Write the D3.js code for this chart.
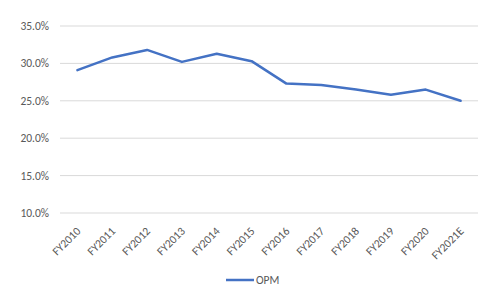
<!DOCTYPE html>
<html>
<head>
<meta charset="utf-8">
<script src="https://cdn.jsdelivr.net/npm/d3@7"></script>
<style>
  body { margin: 0; background: #fff; }
  text { font-family: Calibri, Carlito, "Open Sans", sans-serif; }
</style>
</head>
<body>
<svg id="chart"></svg>
<script>
const years = ['FY2010', 'FY2011', 'FY2012', 'FY2013', 'FY2014', 'FY2015',
  'FY2016', 'FY2017', 'FY2018', 'FY2019', 'FY2020', 'FY2021E']
const opm = [29.1, 30.8, 31.8, 30.2, 31.3, 30.3, 27.3, 27.1, 26.5, 25.8, 26.5, 25.0]
const yTicks = [10, 15, 20, 25, 30, 35]

const width = 492
const height = 297
const svg = d3.select('#chart').attr('width', width).attr('height', height)

const x = d3.scaleBand().domain(years).range([60, 478])
const y = d3.scaleLinear().domain([10, 35]).range([213, 26])

// gridlines
svg.append('g')
  .selectAll('line')
  .data(yTicks)
  .join('line')
  .attr('x1', 60)
  .attr('x2', 478)
  .attr('y1', d => y(d))
  .attr('y2', d => y(d))
  .attr('stroke', '#d9d9d9')
  .attr('stroke-width', 1)

// y labels
svg.append('g')
  .selectAll('text')
  .data(yTicks)
  .join('text')
  .attr('x', 49)
  .attr('y', d => y(d))
  .attr('dy', '0.35em')
  .attr('text-anchor', 'end')
  .attr('fill', '#595959')
  .attr('font-size', 11.5)
  .text(d => d.toFixed(1) + '%')

// x labels
svg.append('g')
  .selectAll('text')
  .data(years)
  .join('text')
  .attr('transform', d => `translate(${x(d) + x.bandwidth() / 2 + 1},${y(10) + 16}) rotate(-45)`)
  .attr('text-anchor', 'end')
  .attr('dy', '0.35em')
  .attr('fill', '#595959')
  .attr('font-size', 11.5)
  .text(d => d)

// line
const line = d3.line()
  .x((d, i) => x(years[i]) + x.bandwidth() / 2)
  .y(d => y(d))

svg.append('path')
  .datum(opm)
  .attr('d', line)
  .attr('fill', 'none')
  .attr('stroke', '#4472c4')
  .attr('stroke-width', 2.5)
  .attr('stroke-linejoin', 'round')
  .attr('stroke-linecap', 'round')

// legend
const legend = svg.append('g').attr('transform', 'translate(226,280)')
legend.append('line')
  .attr('x1', 0).attr('x2', 28)
  .attr('stroke', '#4472c4')
  .attr('stroke-width', 2.5)
legend.append('text')
  .attr('x', 30)
  .attr('dy', '0.35em')
  .attr('fill', '#595959')
  .attr('font-size', 11.5)
  .text('OPM')
</script>
</body>
</html>
